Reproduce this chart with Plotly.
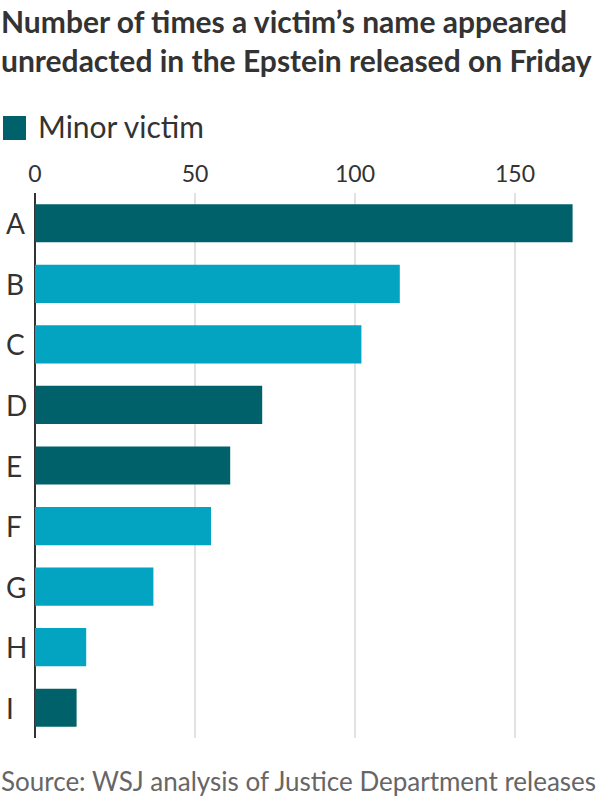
import plotly.graph_objects as go

categories = ["A", "B", "C", "D", "E", "F", "G", "H", "I"]
values = [168, 114, 102, 71, 61, 55, 37, 16, 13]
is_minor = [True, False, False, True, True, False, False, False, True]
tick_vals = [0, 50, 100, 150]
tick_text = ["0", "50", "100", "150"]

DARK = "#00616a"
LIGHT = "#02a4c1"
TEXT = "#333333"
FONT = "Lato"

minor_cats = [c for c, m in zip(categories, is_minor) if m]
minor_vals = [v for v, m in zip(values, is_minor) if m]
other_cats = [c for c, m in zip(categories, is_minor) if not m]
other_vals = [v for v, m in zip(values, is_minor) if not m]

fig = go.Figure()
fig.add_trace(go.Bar(y=minor_cats, x=minor_vals, orientation="h",
                     marker=dict(color=DARK, line=dict(width=0)),
                     name="Minor victim", showlegend=False))
fig.add_trace(go.Bar(y=other_cats, x=other_vals, orientation="h",
                     marker=dict(color=LIGHT, line=dict(width=0)),
                     name="Other", showlegend=False))

L, R, T, B = 35, 5, 193, 62
W, H = 600, 800
PW = W - L - R
PH = H - T - B

def px_x(px):
    return (px - L) / PW

def px_y(py):
    return (H - B - py) / PH

annotations = []
for c in categories:
    annotations.append(dict(x=px_x(4), xref="paper", y=c, yref="y",
                            text=c, showarrow=False, xanchor="left", yanchor="middle",
                            font=dict(family=FONT, size=28, color=TEXT)))

# title
annotations.append(dict(x=px_x(-1), xref="paper", y=px_y(1), yref="paper",
                        text="<b>Number of times a victim’s name appeared<br>unredacted in the Epstein released on Friday</b>",
                        showarrow=False, xanchor="left", yanchor="top", align="left",
                        font=dict(family=FONT, size=30, color=TEXT)))
# legend
annotations.append(dict(x=px_x(36), xref="paper", y=px_y(126), yref="paper",
                        text="Minor victim", showarrow=False, xanchor="left", yanchor="middle",
                        font=dict(family=FONT, size=30, color=TEXT)))
# source
annotations.append(dict(x=px_x(-1), xref="paper", y=px_y(799), yref="paper",
                        text="Source: WSJ analysis of Justice Department releases",
                        showarrow=False, xanchor="left", yanchor="bottom",
                        font=dict(family=FONT, size=26, color="#666666")))

shapes = [dict(type="rect", xref="paper", yref="paper",
               x0=px_x(3), x1=px_x(26), y0=px_y(140), y1=px_y(116),
               fillcolor=DARK, line=dict(width=0))]

fig.update_layout(
    width=W, height=H,
    margin=dict(l=L, r=R, t=T, b=B),
    paper_bgcolor="white", plot_bgcolor="white",
    bargap=0.37, barmode="overlay",
    annotations=annotations,
    shapes=shapes,
    xaxis=dict(side="top", range=[0, 175], tickvals=tick_vals, ticktext=tick_text,
               showgrid=True, gridcolor="#e2e2e2", gridwidth=1.5,
               zeroline=True, zerolinecolor=TEXT, zerolinewidth=2,
               showline=False, ticks="", ticklabelstandoff=5,
               tickfont=dict(family=FONT, size=23, color=TEXT), fixedrange=True),
    yaxis=dict(categoryorder="array", categoryarray=categories, autorange="reversed",
               showticklabels=False, showgrid=False, zeroline=False, showline=False,
               ticks="", fixedrange=True),
    showlegend=False,
)

fig.write_html("out.html", config={"displayModeBar": False},
               post_script="document.body.style.margin='0';document.body.style.overflow='hidden';")
